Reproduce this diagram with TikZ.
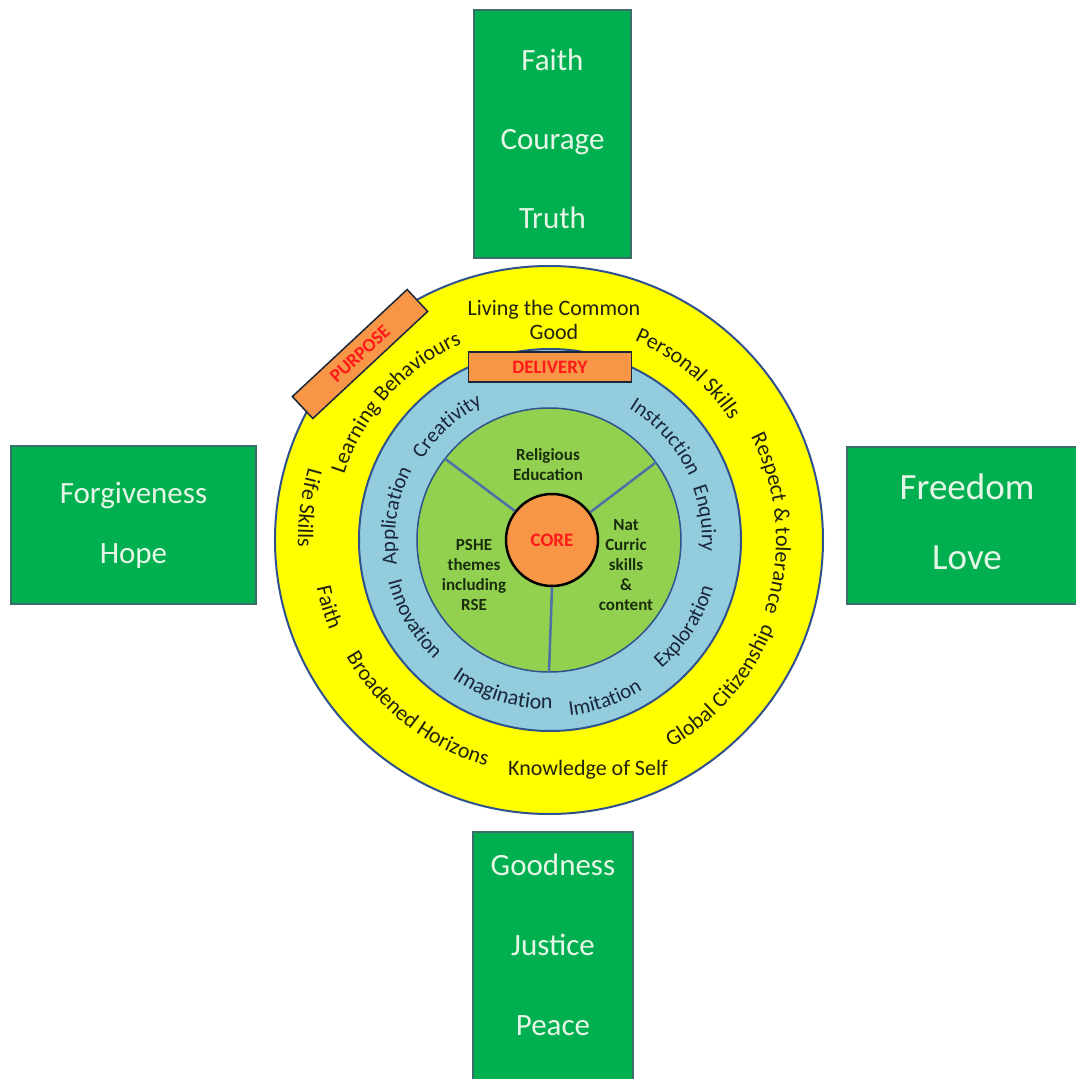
\documentclass[tikz,border=0pt]{standalone}
\usepackage{fontspec}
\setmainfont{Carlito}
\usetikzlibrary{decorations.text}

\definecolor{virtuegreen}{HTML}{00B050}
\definecolor{virtueedge}{HTML}{3A6E6A}
\definecolor{virtuetext}{HTML}{E6F6E6}
\definecolor{ringyellow}{HTML}{FFFF00}
\definecolor{ringblue}{HTML}{93CDDD}
\definecolor{ringgreen}{HTML}{92D050}
\definecolor{coreorange}{HTML}{F79646}
\definecolor{ringedge}{HTML}{2F528F}
\definecolor{spokeblue}{HTML}{4A72A6}
\definecolor{darkolive}{HTML}{222210}
\definecolor{darknavy}{HTML}{1A263A}
\definecolor{darkleaf}{HTML}{1A2E0E}
\definecolor{tagred}{HTML}{FF1A1A}

\newcommand{\ysize}{\fontsize{22}{24}\selectfont}
\newcommand{\bsize}{\fontsize{21}{24}\selectfont}

% curved words on the rings, centred on an angle
\newcommand{\cwlabel}[3]{\path[decorate,decoration={text along path,text align=center,text={#3}}] (#1+60:#2) arc[start angle=#1+60,end angle=#1-60,radius=#2];}
\newcommand{\ccwlabel}[3]{\path[decorate,decoration={text along path,text align=center,text={#3}}] (#1-60:#2) arc[start angle=#1-60,end angle=#1+60,radius=#2];}

\begin{document}
\begin{tikzpicture}[x=1pt,y=1pt,
  virtue/.style={draw=virtueedge,line width=1.2pt,fill=virtuegreen,inner sep=0pt},
  words/.style={text=virtuetext,align=center},
  ring/.style={circle,draw=ringedge,line width=2pt,inner sep=0pt},
  tag/.style={draw=darknavy,line width=1.5pt,fill=coreorange,text=tagred,font=\fontsize{19}{22}\selectfont\bfseries,minimum height=30,inner sep=0pt},
  seg/.style={font=\fontsize{17}{20}\selectfont\bfseries,text=darkleaf,align=center}]
\useasboundingbox (-549,-539) rectangle (527,540);

% the four virtue boxes
\node[virtue,minimum width=157,minimum height=248] (north) at (3.5,406) {};
\node[words,font=\fontsize{31}{79}\selectfont] (northtext) at (3.5,401) {Faith\\Courage\\Truth};
\node[virtue,minimum width=245,minimum height=158] (west) at (-415.5,15) {};
\node[words,font=\fontsize{31}{60}\selectfont] (westtext) at (-415.5,15) {Forgiveness\\Hope};
\node[virtue,minimum width=240,minimum height=157] (east) at (418,14.5) {};
\node[words,font=\fontsize{37}{70}\selectfont] (easttext) at (418,18) {Freedom\\Love};
\node[virtue,minimum width=160,minimum height=262] (south) at (4,-423) {};
\node[words,font=\fontsize{31}{80}\selectfont] (southtext) at (4,-405) {Goodness\\Justice\\Peace};

% rings
\node[ring,fill=ringyellow,minimum size=548] (outer) at (0,0) {};
\node[ring,fill=ringblue,minimum size=382] (middle) at (1,0) {};
\node[ring,fill=ringgreen,minimum size=264,line width=1.5pt] (inner) at (0,0) {};
\node[circle,draw=black,line width=2.5pt,fill=coreorange,minimum size=92,inner sep=0pt,
  text=tagred,font=\fontsize{19}{22}\selectfont\bfseries] (core) at (3,0) {CORE};
\foreach \a in {142,36,270}
  \draw[spokeblue,line width=2.5pt] (core.\a) -- (inner.\a);

% core segments
\node[seg] (re) at (-1,75) {Religious\\Education};
\node[seg] (pshe) at (-75,-35) {PSHE\\themes\\including\\RSE};
\node[seg] (nat) at (77,-25) {Nat\\Curric\\skills\\\&\\content};

% purpose ring
\node[font=\ysize,text=darkolive,align=center] (common) at (5,220) {Living the Common\\Good};
\node[font=\ysize,text=darkolive] (self) at (39,-230) {Knowledge of Self};
\cwlabel{138.1}{215}{|\ysize\color{darkolive}|Learning Behaviours}
\cwlabel{50.1}{217}{|\ysize\color{darkolive}|Personal Skills}
\cwlabel{4.4}{227}{|\ysize\color{darkolive}|Respect {\&} tolerance}
\ccwlabel{-40.5}{241}{|\ysize\color{darkolive}|Global Citizenship}
\ccwlabel{232.2}{234}{|\ysize\color{darkolive}|Broadened Horizons}
\ccwlabel{196.9}{237}{|\ysize\color{darkolive}|Faith}
\ccwlabel{172.5}{251}{|\ysize\color{darkolive}|Life Skills}

% delivery ring
\cwlabel{131.9}{150}{|\bsize\color{darknavy}|Creativity}
\cwlabel{41.5}{154}{|\bsize\color{darknavy}|Instruction}
\cwlabel{7.9}{153}{|\bsize\color{darknavy}|Enquiry}
\cwlabel{171}{154}{|\bsize\color{darknavy}|Application}
\ccwlabel{210.3}{166}{|\bsize\color{darknavy}|Innovation}
\ccwlabel{253.1}{169}{|\fontsize{22}{24}\selectfont\color{darknavy}|Imagination}
\ccwlabel{289.3}{177}{|\bsize\color{darknavy}|Imitation}
\ccwlabel{327.5}{171}{|\bsize\color{darknavy}|Exploration}

% tags
\node[tag,minimum width=163] (delivery) at (1,173) {DELIVERY};
\node[tag,minimum width=157,rotate=43] (purpose) at (-189,186) {PURPOSE};
\end{tikzpicture}
\end{document}
